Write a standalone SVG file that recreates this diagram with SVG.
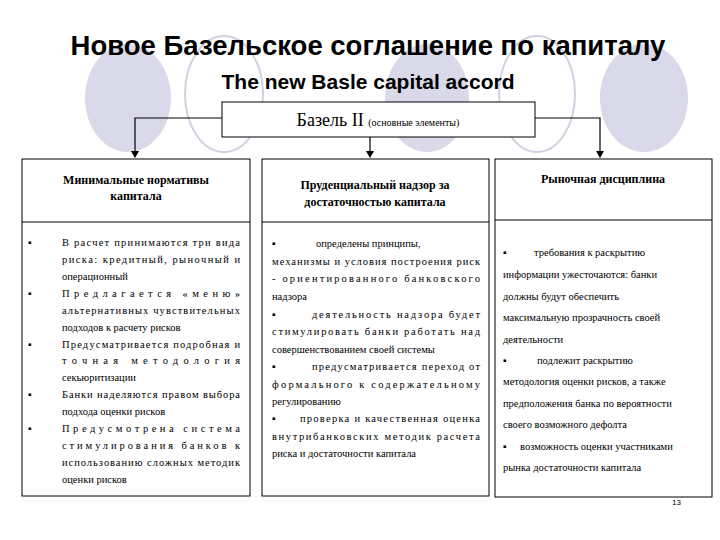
<svg xmlns="http://www.w3.org/2000/svg" width="720" height="540" viewBox="0 0 720 540">
<style>
.t{font-family:"Liberation Sans",Arial,sans-serif;font-weight:bold;fill:#000}
.s text{font-family:"Liberation Serif","Times New Roman",serif;font-size:10.5px;fill:#000}
.h{font-family:"Liberation Serif","Times New Roman",serif;font-size:12px;font-weight:bold;fill:#000;text-anchor:middle}
.box{fill:#fff;stroke:#000;stroke-width:1}
.ln{stroke:#000;stroke-width:1.2;fill:none}
.fc{fill:#d9d9ea}
.oc{fill:none;stroke:#d0d0e0;stroke-width:2}
</style>
<defs><marker id="a" markerWidth="8" markerHeight="8" refX="6" refY="4" orient="auto" markerUnits="userSpaceOnUse"><path d="M0,0 L7,4 L0,8 Z" fill="#000"/></marker></defs>
<rect width="720" height="540" fill="#fff"/>
<g id="decor">
<ellipse class="fc" cx="128" cy="98" rx="43" ry="54"/>
<ellipse class="oc" cx="224" cy="94" rx="39" ry="58"/>
<ellipse class="fc" cx="427" cy="98" rx="42" ry="54"/>
<ellipse class="oc" cx="537" cy="94" rx="38" ry="58"/>
<ellipse class="fc" cx="644" cy="98" rx="44" ry="54"/>
</g>
<text class="t" x="368" y="55" font-size="27.5" text-anchor="middle">Новое Базельское соглашение по капиталу</text>
<text class="t" x="368" y="89" font-size="21" text-anchor="middle">The new Basle capital accord</text>
<g id="connectors">
<path class="ln" d="M222,118 H135 V157" marker-end="url(#a)"/>
<path class="ln" d="M370,137 V157" marker-end="url(#a)"/>
<path class="ln" d="M535,118 H600 V157" marker-end="url(#a)"/>
</g>
<g id="root">
<rect class="box" x="222" y="102" width="313" height="35"/>
<text x="378" y="126" text-anchor="middle" font-family="Liberation Serif,serif"><tspan font-size="18">Базель II </tspan><tspan font-size="10">(основные элементы)</tspan></text>
</g>
<g id="n1">
<rect class="box" x="22" y="159" width="228" height="337"/>
<line class="ln" x1="22" y1="222" x2="250" y2="222" stroke-width="1"/>
<text class="h" x="136" y="184">Минимальные нормативы</text>
<text class="h" x="136" y="200">капитала</text>
<g class="s">
<text x="28" y="246">▪</text><text x="28" y="297">▪</text><text x="28" y="348">▪</text><text x="28" y="398">▪</text><text x="28" y="432">▪</text>
<text x="62" y="246" textLength="178" lengthAdjust="spacing">В расчет принимаются три вида</text>
<text x="62" y="263" textLength="178" lengthAdjust="spacing">риска: кредитный, рыночный и</text>
<text x="62" y="280">операционный</text>
<text x="62" y="297" textLength="178" lengthAdjust="spacing">Предлагается «меню»</text>
<text x="62" y="314" textLength="178" lengthAdjust="spacing">альтернативных чувствительных</text>
<text x="62" y="331">подходов к расчету рисков</text>
<text x="62" y="348" textLength="178" lengthAdjust="spacing">Предусматривается подробная и</text>
<text x="62" y="364" textLength="178" lengthAdjust="spacing">точная методология</text>
<text x="62" y="381">секьюритизации</text>
<text x="62" y="398" textLength="178" lengthAdjust="spacing">Банки наделяются правом выбора</text>
<text x="62" y="415">подхода оценки рисков</text>
<text x="62" y="432" textLength="178" lengthAdjust="spacing">Предусмотрена система</text>
<text x="62" y="449" textLength="178" lengthAdjust="spacing">стимулирования банков к</text>
<text x="62" y="466" textLength="178" lengthAdjust="spacing">использованию сложных методик</text>
<text x="62" y="483">оценки рисков</text>
</g>
</g>
<g id="n2">
<rect class="box" x="262" y="159" width="227" height="337"/>
<line class="ln" x1="262" y1="222" x2="489" y2="222" stroke-width="1"/>
<text class="h" x="375" y="189">Пруденциальный надзор за</text>
<text class="h" x="375" y="206">достаточностью капитала</text>
<g class="s">
<text x="272" y="247">▪</text>
<text x="316" y="247">определены принципы,</text>
<text x="272" y="265" textLength="208" lengthAdjust="spacing">механизмы и условия построения риск</text>
<text x="272" y="282" textLength="208" lengthAdjust="spacing">- ориентированного банковского</text>
<text x="272" y="300">надзора</text>
<text x="272" y="318">▪</text>
<text x="312" y="318" textLength="168" lengthAdjust="spacing">деятельность надзора будет</text>
<text x="272" y="335" textLength="208" lengthAdjust="spacing">стимулировать банки работать над</text>
<text x="272" y="353">совершенствованием своей системы</text>
<text x="272" y="370">▪</text>
<text x="312" y="370" textLength="168" lengthAdjust="spacing">предусматривается переход от</text>
<text x="272" y="388" textLength="208" lengthAdjust="spacing">формального к содержательному</text>
<text x="272" y="405">регулированию</text>
<text x="272" y="422">▪</text>
<text x="300" y="422" textLength="180" lengthAdjust="spacing">проверка и качественная оценка</text>
<text x="272" y="440" textLength="208" lengthAdjust="spacing">внутрибанковских методик расчета</text>
<text x="272" y="457">риска и достаточности капитала</text>
</g>
</g>
<g id="n3">
<rect class="box" x="495" y="159" width="217" height="338"/>
<line class="ln" x1="495" y1="220" x2="712" y2="220" stroke-width="1"/>
<text class="h" x="603" y="183">Рыночная дисциплина</text>
<g class="s">
<text x="503" y="256">▪</text>
<text x="534" y="256">требования к раскрытию</text>
<text x="503" y="278">информации ужесточаются: банки</text>
<text x="503" y="300">должны будут обеспечить</text>
<text x="503" y="321">максимальную прозрачность своей</text>
<text x="503" y="343">деятельности</text>
<text x="503" y="364">▪</text>
<text x="537" y="364">подлежит раскрытию</text>
<text x="503" y="385">методология оценки рисков, а также</text>
<text x="503" y="407">предположения банка по вероятности</text>
<text x="503" y="428">своего возможного дефолта</text>
<text x="503" y="450">▪</text>
<text x="520" y="450">возможность оценки участниками</text>
<text x="503" y="471">рынка достаточности капитала</text>
</g>
</g>
<text x="672" y="505" font-family="Liberation Sans,sans-serif" font-size="8">13</text>
</svg>
